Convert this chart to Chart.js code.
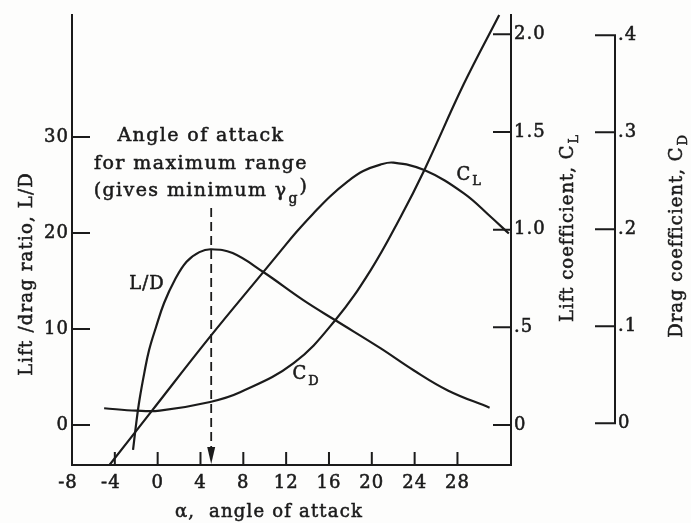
<!DOCTYPE html>
<html>
<head>
<meta charset="utf-8">
<script src="https://cdn.jsdelivr.net/npm/chart.js@4.4.0/dist/chart.umd.min.js"></script>
<style>
  html, body { margin: 0; padding: 0; background: #fdfdfc; }
  #chart { display: block; }
</style>
</head>
<body>
<canvas id="chart" width="691" height="523"></canvas>
<script>
// Lift/drag ratio curve (angle of attack in degrees)
const alphaLD = [-2.3, -2.0, -1.7, -1.25, -0.8, -0.15, 0.6, 1.6, 2.7, 3.9, 5.0, 7.0, 9.9, 13.6, 16.6, 20.8, 23.9, 27.1, 31.0];
const liftDrag = [-2.6, 0.2, 2.6, 5.4, 7.8, 10.2, 12.7, 15.1, 17.0, 18.0, 18.3, 17.9, 15.9, 13.0, 10.9, 8.0, 5.7, 3.6, 1.8];

// Lift coefficient curve
const alphaCL = [-4.5, -0.6, 4.9, 9.9, 11.4, 13.0, 14.5, 16.1, 17.7, 19.2, 20.8, 22.0, 24.9, 28.6, 31.1, 32.8];
const liftCoef = [-0.205, 0.068, 0.452, 0.785, 0.885, 0.99, 1.08, 1.17, 1.245, 1.30, 1.333, 1.343, 1.305, 1.186, 1.066, 0.98];

// Drag coefficient curve
const alphaCD = [-5.0, -2.0, 0.2, 4.9, 7.7, 12.7, 16.6, 19.9, 22.7, 24.9, 28.6, 31.9];
const dragCoef = [0.0155, 0.013, 0.013, 0.022, 0.032, 0.062, 0.1065, 0.158, 0.213, 0.261, 0.350, 0.421];

// Tick values and labels
const alphaTicks = [-8, -4, 0, 4, 8, 12, 16, 20, 24, 28];
const ldTicks = [0, 10, 20, 30];
const clTicks = [0, 0.5, 1.0, 1.5, 2.0];
const clTickLabels = ['0', '.5', '1.0', '1.5', '2.0'];
const cdTicks = [0, 0.1, 0.2, 0.3, 0.4];
const cdTickLabels = ['0', '.1', '.2', '.3', '.4'];

// Angle of attack for maximum range
const bestAlpha = 5;
const bestLineTop = 22.6;

const ink = '#1b1b1b';
const serif = '"DejaVu Serif", "Liberation Serif", serif';

function toPoints(xs, ys) {
    return xs.map((x, i) => ({ x: x, y: ys[i] }));
}

function setFont(ctx, size, spacing) {
    ctx.font = size + 'px ' + serif;
    ctx.letterSpacing = (spacing === undefined ? 1 : spacing) + 'px';
}

// printed-looking text: fill plus a thin stroke to thicken the glyphs
function txt(ctx, s, x, y) {
    ctx.fillText(s, x, y);
    ctx.strokeText(s, x, y);
}

// main text followed by a lowered subscript, starting at x (middle baseline)
function drawWithSub(ctx, main, sub, x, y, size) {
    setFont(ctx, size);
    ctx.textAlign = 'left';
    ctx.textBaseline = 'middle';
    txt(ctx, main, x, y);
    const w = ctx.measureText(main).width;
    setFont(ctx, size * 0.72);
    txt(ctx, sub, x + w + 1, y + size * 0.38);
    return w + 1 + ctx.measureText(sub).width;
}

function subWidth(ctx, main, sub, size) {
    setFont(ctx, size);
    const w = ctx.measureText(main).width;
    setFont(ctx, size * 0.72);
    return w + 1 + ctx.measureText(sub).width;
}

const bookAxes = {
    id: 'bookAxes',
    afterDatasetsDraw(chart) {
        const { ctx, chartArea: a, scales } = chart;
        const sx = scales.x, ld = scales.yLD, cl = scales.yCL, cd = scales.yCD;
        ctx.save();
        ctx.strokeStyle = ink;
        ctx.fillStyle = ink;
        ctx.lineWidth = 2;

        // frame
        ctx.beginPath();
        ctx.moveTo(a.left, a.top);
        ctx.lineTo(a.left, a.bottom);
        ctx.lineTo(a.right, a.bottom);
        ctx.lineTo(a.right, a.top);
        ctx.stroke();

        // x ticks, pointing up
        ctx.beginPath();
        alphaTicks.forEach(v => {
            const px = sx.getPixelForValue(v);
            ctx.moveTo(px, a.bottom);
            ctx.lineTo(px, a.bottom - 13);
        });
        // left ticks, pointing right
        ldTicks.forEach(v => {
            const py = ld.getPixelForValue(v);
            ctx.moveTo(a.left, py);
            ctx.lineTo(a.left + 18, py);
        });
        // lift coefficient ticks, pointing left
        clTicks.forEach(v => {
            const py = cl.getPixelForValue(v);
            ctx.moveTo(a.right, py);
            ctx.lineTo(a.right - 18, py);
        });
        ctx.stroke();

        // drag coefficient axis, standing alone to the right
        const cdX = a.right + 104;
        ctx.beginPath();
        ctx.moveTo(cdX, cd.getPixelForValue(0));
        ctx.lineTo(cdX, cd.getPixelForValue(0.4));
        cdTicks.forEach(v => {
            const py = cd.getPixelForValue(v);
            ctx.moveTo(cdX + 1, py);
            ctx.lineTo(cdX - 20, py);
        });
        ctx.stroke();

        // text from here on
        ctx.lineWidth = 0.55;

        // tick labels
        setFont(ctx, 18);
        ctx.textBaseline = 'middle';
        ctx.textAlign = 'center';
        alphaTicks.forEach(v => {
            txt(ctx, String(v), sx.getPixelForValue(v) - (v < 0 ? 4 : 0), a.bottom + 18);
        });
        ctx.textAlign = 'right';
        ldTicks.forEach(v => txt(ctx, String(v), a.left - 3, ld.getPixelForValue(v)));
        ctx.textAlign = 'left';
        clTicks.forEach((v, i) => txt(ctx, clTickLabels[i], a.right + 3, cl.getPixelForValue(v)));
        cdTicks.forEach((v, i) => txt(ctx, cdTickLabels[i], cdX + 3, cd.getPixelForValue(v)));

        // axis titles
        setFont(ctx, 18, 1.2);
        ctx.textAlign = 'center';
        txt(ctx, '\u03b1,  angle of attack', 269, a.bottom + 47);

        ctx.save();
        ctx.translate(27, 274);
        ctx.rotate(-Math.PI / 2);
        ctx.textAlign = 'center';
        txt(ctx, 'Lift /drag ratio, L/D', 0, 0);
        ctx.restore();

        ctx.save();
        ctx.translate(568, 228);
        ctx.rotate(-Math.PI / 2);
        let w = subWidth(ctx, 'Lift coefficient, C', 'L', 18);
        drawWithSub(ctx, 'Lift coefficient, C', 'L', -w / 2, 0, 18);
        ctx.restore();

        ctx.save();
        ctx.translate(677, 236);
        ctx.rotate(-Math.PI / 2);
        w = subWidth(ctx, 'Drag coefficient, C', 'D', 18);
        drawWithSub(ctx, 'Drag coefficient, C', 'D', -w / 2, 0, 18);
        ctx.restore();

        // dashed marker for maximum range, with arrow head
        const bx = sx.getPixelForValue(bestAlpha);
        ctx.save();
        ctx.lineWidth = 1.8;
        ctx.setLineDash([9, 5]);
        ctx.beginPath();
        ctx.moveTo(bx, ld.getPixelForValue(bestLineTop));
        ctx.lineTo(bx, a.bottom - 16);
        ctx.stroke();
        ctx.restore();
        ctx.beginPath();
        ctx.moveTo(bx - 4, a.bottom - 18);
        ctx.lineTo(bx + 4, a.bottom - 18);
        ctx.lineTo(bx, a.bottom - 1);
        ctx.closePath();
        ctx.fill();

        // annotation
        const cx = 201;
        setFont(ctx, 19, 1.4);
        ctx.textAlign = 'center';
        ctx.textBaseline = 'middle';
        txt(ctx, 'Angle of attack', cx, 136);
        txt(ctx, 'for maximum range', cx, 164);
        const main = '(gives minimum \u03b3';
        const mw = ctx.measureText(main).width;
        setFont(ctx, 14);
        const gw = ctx.measureText('g').width;
        setFont(ctx, 19, 1.4);
        const pw = ctx.measureText(')').width;
        const tx = cx - (mw + gw + pw + 2) / 2;
        ctx.textAlign = 'left';
        txt(ctx, main, tx, 191);
        setFont(ctx, 14);
        txt(ctx, 'g', tx + mw + 1, 199);
        setFont(ctx, 19, 1.4);
        txt(ctx, ')', tx + mw + gw + 2, 187);

        // curve labels
        setFont(ctx, 18);
        ctx.textAlign = 'center';
        txt(ctx, 'L/D', sx.getPixelForValue(-1.0), ld.getPixelForValue(14.6));
        drawWithSub(ctx, 'C', 'L', sx.getPixelForValue(27.9), cl.getPixelForValue(1.28), 18);
        drawWithSub(ctx, 'C', 'D', sx.getPixelForValue(12.6), cd.getPixelForValue(0.05), 18);

        ctx.restore();
    }
};

const lineStyle = {
    borderColor: ink,
    borderWidth: 2.2,
    pointRadius: 0,
    fill: false,
    tension: 0.4
};

new Chart(document.getElementById('chart'), {
    type: 'line',
    data: {
        datasets: [
            Object.assign({ label: 'L/D', data: toPoints(alphaLD, liftDrag), yAxisID: 'yLD' }, lineStyle),
            Object.assign({ label: 'CL', data: toPoints(alphaCL, liftCoef), yAxisID: 'yCL' }, lineStyle),
            Object.assign({ label: 'CD', data: toPoints(alphaCD, dragCoef), yAxisID: 'yCD' }, lineStyle)
        ]
    },
    options: {
        responsive: false,
        animation: false,
        layout: { padding: { left: 72, right: 180, top: 14, bottom: 58 } },
        plugins: {
            legend: { display: false },
            tooltip: { enabled: false }
        },
        scales: {
            x: { type: 'linear', display: false, min: -8, max: 33 },
            yLD: { type: 'linear', display: false, min: -4.17, max: 42.8 },
            yCL: { type: 'linear', display: false, min: -0.205, max: 2.104 },
            yCD: { type: 'linear', display: false, min: -0.043, max: 0.422 }
        }
    },
    plugins: [bookAxes]
});
</script>
</body>
</html>
